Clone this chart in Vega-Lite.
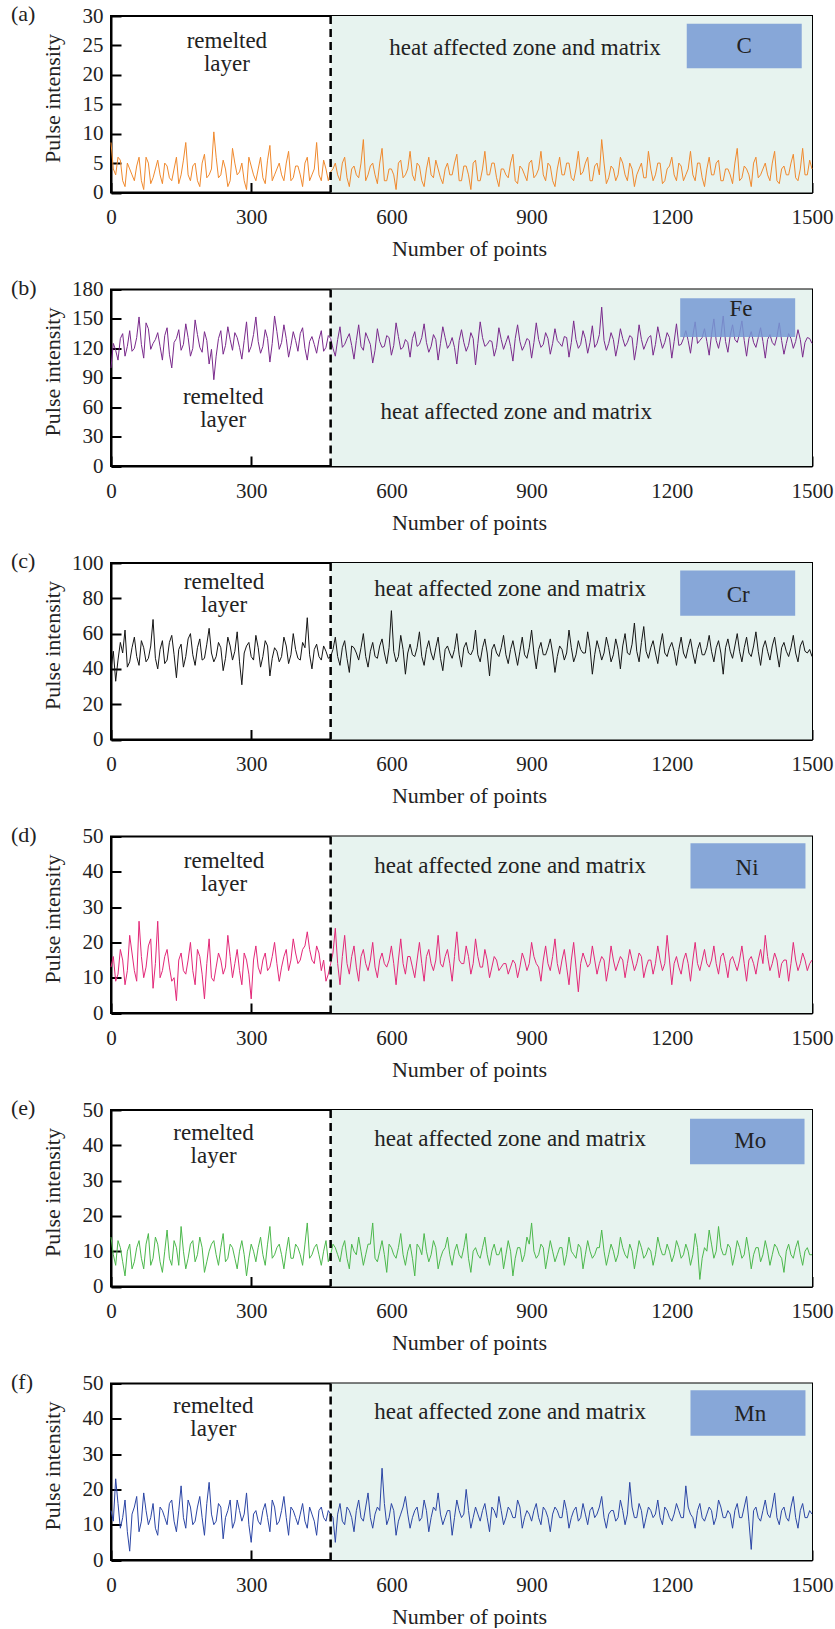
{
"$schema": "https://vega.github.io/schema/vega-lite/v6.json",
"padding": {"left": 10, "top": 2, "right": 0, "bottom": 0},
"background": "white",
"bounds": "flush",
"spacing": 96.5,
"config": {
  "view": {"stroke": "#000", "strokeWidth": 2},
  "axis": {"grid": false, "domainColor": "#000", "domainWidth": 2, "tickColor": "#000", "tickWidth": 2, "tickSize": -10, "labelOverlap": false, "labelFlush": false, "labelFont": "Liberation Serif, Times New Roman, serif", "labelFontSize": 21, "labelColor": "#222", "titleFont": "Liberation Serif, Times New Roman, serif", "titleFontSize": 22, "titleFontWeight": "normal", "titleColor": "#222"},
  "axisX": {"labelPadding": 24, "format": "d", "titleX": 358, "titleY": 56, "titleBaseline": "middle", "titleAlign": "center"},
  "axisY": {"labelPadding": 18, "titleX": -59, "titleY": 82, "titleBaseline": "middle", "titleAlign": "center"},
  "text": {"font": "Liberation Serif, Times New Roman, serif", "color": "#222", "fontSize": 23, "baseline": "middle", "align": "center"},
  "title": {"font": "Liberation Serif, Times New Roman, serif", "fontSize": 22, "fontWeight": "normal", "color": "#222", "anchor": "start", "frame": "group", "dx": -100, "baseline": "alphabetic", "offset": -21}
},
"data": {"values": [
{"x":0,"C":8.5,"Fe":100,"Cr":40,"Ni":13,"Mo":14,"Mn":14},
{"x":10,"C":3,"Fe":118,"Cr":33,"Ni":9,"Mo":6,"Mn":23},
{"x":20,"C":5.5,"Fe":130,"Cr":55,"Ni":18,"Mo":11,"Mn":9},
{"x":30,"C":1,"Fe":112,"Cr":62,"Ni":8,"Mo":3,"Mn":17},
{"x":40,"C":4,"Fe":138,"Cr":44,"Ni":22,"Mo":12,"Mn":2.5},
{"x":50,"C":2,"Fe":120,"Cr":58,"Ni":12,"Mo":7,"Mn":15},
{"x":60,"C":6,"Fe":152,"Cr":42,"Ni":26,"Mo":13,"Mn":8},
{"x":70,"C":0.5,"Fe":110,"Cr":52,"Ni":10,"Mo":5,"Mn":19},
{"x":80,"C":5,"Fe":140,"Cr":46,"Ni":19,"Mo":15,"Mn":10},
{"x":90,"C":2.5,"Fe":125,"Cr":68,"Ni":7,"Mo":8,"Mn":16},
{"x":100,"C":5.5,"Fe":136,"Cr":40,"Ni":26,"Mo":12,"Mn":7},
{"x":110,"C":1.5,"Fe":108,"Cr":56,"Ni":12,"Mo":4,"Mn":14},
{"x":120,"C":4.5,"Fe":141,"Cr":45,"Ni":18,"Mo":16,"Mn":10},
{"x":130,"C":2,"Fe":100,"Cr":59,"Ni":9,"Mo":6,"Mn":17},
{"x":140,"C":6,"Fe":130,"Cr":35,"Ni":3.5,"Mo":11,"Mn":8},
{"x":150,"C":3,"Fe":118,"Cr":54,"Ni":17,"Mo":17,"Mn":21},
{"x":160,"C":8.5,"Fe":145,"Cr":47,"Ni":11,"Mo":5,"Mn":9},
{"x":170,"C":2,"Fe":112,"Cr":60,"Ni":20,"Mo":12,"Mn":15},
{"x":180,"C":5,"Fe":149,"Cr":42,"Ni":8,"Mo":7,"Mn":11},
{"x":190,"C":1,"Fe":121,"Cr":57,"Ni":16,"Mo":14,"Mn":18},
{"x":200,"C":6.5,"Fe":137,"Cr":46,"Ni":4,"Mo":4,"Mn":7},
{"x":210,"C":3,"Fe":104,"Cr":63,"Ni":21,"Mo":10,"Mn":22},
{"x":220,"C":10.3,"Fe":88,"Cr":44,"Ni":9,"Mo":13,"Mn":10},
{"x":230,"C":2.5,"Fe":130,"Cr":55,"Ni":17,"Mo":6,"Mn":16},
{"x":240,"C":5.5,"Fe":114,"Cr":39,"Ni":11,"Mo":15,"Mn":6},
{"x":250,"C":1,"Fe":142,"Cr":58,"Ni":22,"Mo":8,"Mn":14},
{"x":260,"C":7.5,"Fe":118,"Cr":45,"Ni":10,"Mo":11,"Mn":9},
{"x":270,"C":3,"Fe":131,"Cr":61,"Ni":18,"Mo":5,"Mn":17},
{"x":280,"C":5,"Fe":109,"Cr":31,"Ni":8,"Mo":13,"Mn":11},
{"x":290,"C":0.5,"Fe":147,"Cr":53,"Ni":15,"Mo":3,"Mn":19},
{"x":300,"C":4.5,"Fe":122,"Cr":47,"Ni":4,"Mo":12,"Mn":5},
{"x":310,"C":2,"Fe":152,"Cr":59,"Ni":19,"Mo":7,"Mn":14},
{"x":320,"C":6,"Fe":115,"Cr":41,"Ni":11,"Mo":14,"Mn":10},
{"x":330,"C":1.5,"Fe":139,"Cr":56,"Ni":17,"Mo":6,"Mn":16},
{"x":340,"C":8,"Fe":106,"Cr":36,"Ni":13,"Mo":17,"Mn":8},
{"x":350,"C":3,"Fe":153,"Cr":52,"Ni":20,"Mo":9,"Mn":15},
{"x":360,"C":5,"Fe":119,"Cr":44,"Ni":9,"Mo":12,"Mn":11},
{"x":370,"C":2,"Fe":144,"Cr":58,"Ni":16,"Mo":5,"Mn":18},
{"x":380,"C":7,"Fe":111,"Cr":43,"Ni":12,"Mo":14,"Mn":7},
{"x":390,"C":2.5,"Fe":137,"Cr":60,"Ni":21,"Mo":8,"Mn":14},
{"x":400,"C":4.5,"Fe":117,"Cr":46,"Ni":14,"Mo":11,"Mn":10},
{"x":410,"C":1,"Fe":141,"Cr":55,"Ni":18,"Mo":6,"Mn":16},
{"x":420,"C":6,"Fe":108,"Cr":69,"Ni":23,"Mo":18,"Mn":9},
{"x":430,"C":3,"Fe":132,"Cr":40,"Ni":15,"Mo":9,"Mn":13},
{"x":440,"C":8.5,"Fe":115,"Cr":54,"Ni":19,"Mo":12,"Mn":7},
{"x":450,"C":2,"Fe":138,"Cr":45,"Ni":12,"Mo":6,"Mn":15},
{"x":460,"C":4,"Fe":121,"Cr":50,"Ni":9,"Mo":13,"Mn":11},
{"x":470,"C":3.5,"Fe":130,"Cr":47,"Ni":14,"Mo":9,"Mn":13},
{"x":480,"C":5,"Fe":112,"Cr":58,"Ni":24,"Mo":11,"Mn":5},
{"x":490,"C":2,"Fe":142,"Cr":42,"Ni":8,"Mo":7,"Mn":16},
{"x":500,"C":6,"Fe":124,"Cr":56,"Ni":22,"Mo":13,"Mn":10},
{"x":510,"C":1,"Fe":135,"Cr":38,"Ni":11,"Mo":5,"Mn":14},
{"x":520,"C":4.5,"Fe":109,"Cr":52,"Ni":19,"Mo":10,"Mn":8},
{"x":530,"C":2.5,"Fe":144,"Cr":45,"Ni":9,"Mo":14,"Mn":17},
{"x":540,"C":9,"Fe":118,"Cr":60,"Ni":18,"Mo":6,"Mn":11},
{"x":550,"C":3,"Fe":130,"Cr":41,"Ni":12,"Mo":12,"Mn":19},
{"x":560,"C":5,"Fe":105,"Cr":55,"Ni":20,"Mo":18,"Mn":9},
{"x":570,"C":1.5,"Fe":140,"Cr":46,"Ni":10,"Mo":7,"Mn":15},
{"x":580,"C":7.5,"Fe":121,"Cr":57,"Ni":17,"Mo":13,"Mn":26},
{"x":590,"C":2,"Fe":133,"Cr":43,"Ni":13,"Mo":4,"Mn":10},
{"x":600,"C":4,"Fe":113,"Cr":73,"Ni":19,"Mo":11,"Mn":16},
{"x":610,"C":0.5,"Fe":146,"Cr":44,"Ni":8,"Mo":8,"Mn":7},
{"x":620,"C":5.5,"Fe":119,"Cr":59,"Ni":21,"Mo":15,"Mn":13},
{"x":630,"C":3,"Fe":129,"Cr":37,"Ni":11,"Mo":6,"Mn":18},
{"x":640,"C":7,"Fe":111,"Cr":54,"Ni":16,"Mo":12,"Mn":9},
{"x":650,"C":2,"Fe":137,"Cr":47,"Ni":10,"Mo":3,"Mn":14},
{"x":660,"C":4.5,"Fe":124,"Cr":61,"Ni":20,"Mo":11,"Mn":11},
{"x":670,"C":1,"Fe":145,"Cr":42,"Ni":9,"Mo":15,"Mn":17},
{"x":680,"C":6,"Fe":116,"Cr":56,"Ni":18,"Mo":7,"Mn":8},
{"x":690,"C":2.5,"Fe":134,"Cr":45,"Ni":12,"Mo":13,"Mn":15},
{"x":700,"C":4,"Fe":108,"Cr":58,"Ni":22,"Mo":5,"Mn":19},
{"x":710,"C":1.5,"Fe":142,"Cr":39,"Ni":13,"Mo":10,"Mn":10},
{"x":720,"C":5,"Fe":120,"Cr":53,"Ni":18,"Mo":14,"Mn":14},
{"x":730,"C":3,"Fe":131,"Cr":46,"Ni":9,"Mo":6,"Mn":7},
{"x":740,"C":6.5,"Fe":104,"Cr":60,"Ni":23,"Mo":12,"Mn":17},
{"x":750,"C":2,"Fe":139,"Cr":41,"Ni":14,"Mo":8,"Mn":12},
{"x":760,"C":4.5,"Fe":117,"Cr":55,"Ni":19,"Mo":15,"Mn":20},
{"x":770,"C":0.5,"Fe":136,"Cr":48,"Ni":11,"Mo":4,"Mn":9},
{"x":780,"C":5.5,"Fe":103,"Cr":62,"Ni":21,"Mo":11,"Mn":15},
{"x":790,"C":2,"Fe":147,"Cr":44,"Ni":13,"Mo":8,"Mn":11},
{"x":800,"C":7,"Fe":122,"Cr":57,"Ni":18,"Mo":14,"Mn":16},
{"x":810,"C":3,"Fe":128,"Cr":36,"Ni":10,"Mo":6,"Mn":8},
{"x":820,"C":5,"Fe":112,"Cr":54,"Ni":16,"Mo":12,"Mn":14},
{"x":830,"C":1,"Fe":141,"Cr":47,"Ni":12,"Mo":9,"Mn":18},
{"x":840,"C":4,"Fe":119,"Cr":59,"Ni":14,"Mo":5,"Mn":10},
{"x":850,"C":2.5,"Fe":133,"Cr":43,"Ni":11,"Mo":13,"Mn":15},
{"x":860,"C":6.5,"Fe":107,"Cr":56,"Ni":15,"Mo":3,"Mn":12},
{"x":870,"C":1.5,"Fe":144,"Cr":42,"Ni":10,"Mo":11,"Mn":17},
{"x":880,"C":4,"Fe":118,"Cr":58,"Ni":17,"Mo":7,"Mn":9},
{"x":890,"C":2,"Fe":130,"Cr":46,"Ni":12,"Mo":14,"Mn":14},
{"x":900,"C":5.5,"Fe":110,"Cr":62,"Ni":20,"Mo":18,"Mn":11},
{"x":910,"C":3,"Fe":146,"Cr":40,"Ni":14,"Mo":8,"Mn":16},
{"x":920,"C":7,"Fe":121,"Cr":55,"Ni":9,"Mo":12,"Mn":10},
{"x":930,"C":2,"Fe":136,"Cr":48,"Ni":19,"Mo":5,"Mn":14},
{"x":940,"C":4.5,"Fe":114,"Cr":57,"Ni":12,"Mo":13,"Mn":8},
{"x":950,"C":1,"Fe":140,"Cr":38,"Ni":21,"Mo":7,"Mn":15},
{"x":960,"C":6,"Fe":125,"Cr":53,"Ni":11,"Mo":11,"Mn":12},
{"x":970,"C":3,"Fe":132,"Cr":45,"Ni":18,"Mo":6,"Mn":17},
{"x":980,"C":5,"Fe":111,"Cr":62,"Ni":8,"Mo":14,"Mn":9},
{"x":990,"C":2,"Fe":148,"Cr":44,"Ni":20,"Mo":9,"Mn":14},
{"x":1000,"C":7,"Fe":120,"Cr":56,"Ni":6,"Mo":12,"Mn":11},
{"x":1010,"C":3.5,"Fe":138,"Cr":49,"Ni":17,"Mo":5,"Mn":16},
{"x":1020,"C":6,"Fe":115,"Cr":61,"Ni":13,"Mo":13,"Mn":10},
{"x":1030,"C":2,"Fe":143,"Cr":37,"Ni":19,"Mo":8,"Mn":15},
{"x":1040,"C":5,"Fe":125,"Cr":56,"Ni":11,"Mo":11,"Mn":13},
{"x":1050,"C":9,"Fe":162,"Cr":45,"Ni":16,"Mo":16,"Mn":18},
{"x":1060,"C":1.5,"Fe":118,"Cr":58,"Ni":9,"Mo":6,"Mn":9},
{"x":1070,"C":4.5,"Fe":136,"Cr":44,"Ni":19,"Mo":12,"Mn":14},
{"x":1080,"C":2,"Fe":112,"Cr":57,"Ni":12,"Mo":7,"Mn":11},
{"x":1090,"C":6,"Fe":140,"Cr":40,"Ni":16,"Mo":14,"Mn":17},
{"x":1100,"C":3,"Fe":122,"Cr":60,"Ni":10,"Mo":9,"Mn":10},
{"x":1110,"C":5,"Fe":133,"Cr":48,"Ni":18,"Mo":12,"Mn":22},
{"x":1120,"C":1,"Fe":108,"Cr":66,"Ni":12,"Mo":5,"Mn":12},
{"x":1130,"C":4,"Fe":144,"Cr":44,"Ni":17,"Mo":13,"Mn":16},
{"x":1140,"C":2.5,"Fe":119,"Cr":64,"Ni":10,"Mo":8,"Mn":9},
{"x":1150,"C":7,"Fe":131,"Cr":46,"Ni":15,"Mo":11,"Mn":15},
{"x":1160,"C":2,"Fe":113,"Cr":56,"Ni":11,"Mo":6,"Mn":12},
{"x":1170,"C":5,"Fe":142,"Cr":43,"Ni":19,"Mo":14,"Mn":17},
{"x":1180,"C":1.5,"Fe":120,"Cr":60,"Ni":12,"Mo":9,"Mn":10},
{"x":1190,"C":4,"Fe":136,"Cr":47,"Ni":22,"Mo":12,"Mn":14},
{"x":1200,"C":6,"Fe":110,"Cr":55,"Ni":8,"Mo":7,"Mn":11},
{"x":1210,"C":2,"Fe":145,"Cr":42,"Ni":16,"Mo":13,"Mn":16},
{"x":1220,"C":4.5,"Fe":124,"Cr":58,"Ni":11,"Mo":8,"Mn":12},
{"x":1230,"C":3,"Fe":138,"Cr":46,"Ni":17,"Mo":12,"Mn":21},
{"x":1240,"C":7,"Fe":115,"Cr":57,"Ni":9,"Mo":6,"Mn":13},
{"x":1250,"C":2,"Fe":147,"Cr":43,"Ni":20,"Mo":15,"Mn":9},
{"x":1260,"C":5,"Fe":128,"Cr":55,"Ni":12,"Mo":2,"Mn":16},
{"x":1270,"C":1,"Fe":140,"Cr":48,"Ni":18,"Mo":11,"Mn":11},
{"x":1280,"C":6,"Fe":113,"Cr":59,"Ni":13,"Mo":16,"Mn":15},
{"x":1290,"C":3,"Fe":150,"Cr":44,"Ni":19,"Mo":8,"Mn":10},
{"x":1300,"C":5.5,"Fe":120,"Cr":56,"Ni":11,"Mo":17,"Mn":17},
{"x":1310,"C":2,"Fe":153,"Cr":37,"Ni":17,"Mo":9,"Mn":12},
{"x":1320,"C":4,"Fe":116,"Cr":57,"Ni":10,"Mo":12,"Mn":14},
{"x":1330,"C":1.5,"Fe":144,"Cr":46,"Ni":16,"Mo":6,"Mn":9},
{"x":1340,"C":7.5,"Fe":126,"Cr":60,"Ni":12,"Mo":13,"Mn":16},
{"x":1350,"C":2.5,"Fe":148,"Cr":44,"Ni":19,"Mo":8,"Mn":12},
{"x":1360,"C":4,"Fe":112,"Cr":58,"Ni":9,"Mo":14,"Mn":18},
{"x":1370,"C":1,"Fe":137,"Cr":47,"Ni":16,"Mo":5,"Mn":3},
{"x":1380,"C":6,"Fe":121,"Cr":61,"Ni":11,"Mo":11,"Mn":15},
{"x":1390,"C":3,"Fe":141,"Cr":42,"Ni":18,"Mo":7,"Mn":11},
{"x":1400,"C":5,"Fe":110,"Cr":56,"Ni":22,"Mo":13,"Mn":17},
{"x":1410,"C":2,"Fe":134,"Cr":45,"Ni":12,"Mo":6,"Mn":12},
{"x":1420,"C":7,"Fe":123,"Cr":58,"Ni":17,"Mo":12,"Mn":19},
{"x":1430,"C":1.5,"Fe":146,"Cr":41,"Ni":10,"Mo":9,"Mn":10},
{"x":1440,"C":4.5,"Fe":114,"Cr":55,"Ni":15,"Mo":4,"Mn":15},
{"x":1450,"C":3,"Fe":135,"Cr":47,"Ni":9,"Mo":12,"Mn":11},
{"x":1460,"C":6.5,"Fe":120,"Cr":59,"Ni":20,"Mo":8,"Mn":18},
{"x":1470,"C":2,"Fe":139,"Cr":44,"Ni":12,"Mo":13,"Mn":9},
{"x":1480,"C":7.5,"Fe":111,"Cr":56,"Ni":17,"Mo":6,"Mn":16},
{"x":1490,"C":3,"Fe":131,"Cr":49,"Ni":12,"Mo":11,"Mn":12},
{"x":1500,"C":4,"Fe":125,"Cr":47,"Ni":15,"Mo":9,"Mn":13},
{"x":5,"C":4,"Fe":125,"Cr":50,"Ni":16,"Mo":9,"Mn":11},
{"x":15,"C":6,"Fe":108,"Cr":45,"Ni":11,"Mo":13,"Mn":16},
{"x":25,"C":2,"Fe":135,"Cr":49,"Ni":15,"Mo":7,"Mn":12},
{"x":35,"C":5,"Fe":122,"Cr":41,"Ni":12,"Mo":10,"Mn":8},
{"x":45,"C":3,"Fe":117,"Cr":52,"Ni":17,"Mo":5,"Mn":13},
{"x":55,"C":4.5,"Fe":131,"Cr":47,"Ni":9,"Mo":11,"Mn":18},
{"x":65,"C":2,"Fe":124,"Cr":56,"Ni":16,"Mo":8,"Mn":11},
{"x":75,"C":6,"Fe":146,"Cr":44,"Ni":13,"Mo":12,"Mn":14},
{"x":85,"C":1.5,"Fe":119,"Cr":53,"Ni":21,"Mo":6,"Mn":12},
{"x":95,"C":4,"Fe":129,"Cr":46,"Ni":14,"Mo":14,"Mn":9},
{"x":105,"C":3,"Fe":122,"Cr":51,"Ni":10,"Mo":7,"Mn":15},
{"x":115,"C":5,"Fe":133,"Cr":43,"Ni":16,"Mo":10,"Mn":12},
{"x":125,"C":2.5,"Fe":114,"Cr":55,"Ni":13,"Mo":8,"Mn":16},
{"x":135,"C":4,"Fe":126,"Cr":48,"Ni":10,"Mo":13,"Mn":11},
{"x":145,"C":1.5,"Fe":139,"Cr":51,"Ni":15,"Mo":6,"Mn":14},
{"x":155,"C":5.5,"Fe":124,"Cr":41,"Ni":12,"Mo":10,"Mn":12},
{"x":165,"C":3,"Fe":131,"Cr":57,"Ni":15,"Mo":8,"Mn":17},
{"x":175,"C":4.5,"Fe":120,"Cr":48,"Ni":12,"Mo":13,"Mn":10},
{"x":185,"C":2,"Fe":134,"Cr":52,"Ni":18,"Mo":9,"Mn":15},
{"x":195,"C":5,"Fe":116,"Cr":45,"Ni":11,"Mo":11,"Mn":12},
{"x":205,"C":2.5,"Fe":128,"Cr":54,"Ni":14,"Mo":7,"Mn":16},
{"x":215,"C":4,"Fe":119,"Cr":49,"Ni":10,"Mo":12,"Mn":13},
{"x":225,"C":6,"Fe":112,"Cr":47,"Ni":13,"Mo":9,"Mn":11},
{"x":235,"C":3,"Fe":138,"Cr":52,"Ni":15,"Mo":11,"Mn":15},
{"x":245,"C":4,"Fe":123,"Cr":46,"Ni":13,"Mo":7,"Mn":12},
{"x":255,"C":2,"Fe":129,"Cr":53,"Ni":16,"Mo":12,"Mn":17},
{"x":265,"C":5,"Fe":136,"Cr":50,"Ni":14,"Mo":8,"Mn":11},
{"x":275,"C":3.5,"Fe":121,"Cr":44,"Ni":12,"Mo":10,"Mn":14},
{"x":285,"C":2,"Fe":128,"Cr":49,"Ni":17,"Mo":9,"Mn":13},
{"x":295,"C":6,"Fe":116,"Cr":55,"Ni":11,"Mo":8,"Mn":10},
{"x":305,"C":3,"Fe":134,"Cr":45,"Ni":15,"Mo":10,"Mn":13},
{"x":315,"C":4,"Fe":127,"Cr":52,"Ni":13,"Mo":11,"Mn":11},
{"x":325,"C":2.5,"Fe":122,"Cr":47,"Ni":15,"Mo":9,"Mn":14},
{"x":335,"C":5.5,"Fe":130,"Cr":53,"Ni":12,"Mo":12,"Mn":12},
{"x":345,"C":2,"Fe":125,"Cr":46,"Ni":16,"Mo":8,"Mn":17},
{"x":355,"C":4,"Fe":137,"Cr":50,"Ni":14,"Mo":11,"Mn":10},
{"x":365,"C":3,"Fe":126,"Cr":47,"Ni":13,"Mo":9,"Mn":14},
{"x":375,"C":5,"Fe":130,"Cr":53,"Ni":18,"Mo":10,"Mn":12},
{"x":385,"C":2,"Fe":123,"Cr":48,"Ni":15,"Mo":8,"Mn":15},
{"x":395,"C":4.5,"Fe":128,"Cr":51,"Ni":17,"Mo":12,"Mn":12},
{"x":405,"C":3,"Fe":135,"Cr":45,"Ni":15,"Mo":9,"Mn":13},
{"x":415,"C":5,"Fe":120,"Cr":52,"Ni":19,"Mo":12,"Mn":11},
{"x":425,"C":2,"Fe":127,"Cr":48,"Ni":18,"Mo":8,"Mn":15},
{"x":435,"C":4,"Fe":124,"Cr":51,"Ni":14,"Mo":11,"Mn":11},
{"x":445,"C":3,"Fe":129,"Cr":47,"Ni":17,"Mo":9,"Mn":14},
{"x":455,"C":5.5,"Fe":117,"Cr":53,"Ni":15,"Mo":10,"Mn":12},
{"x":465,"C":2,"Fe":133,"Cr":46,"Ni":11,"Mo":7,"Mn":14},
{"x":475,"C":4,"Fe":120,"Cr":51,"Ni":17,"Mo":12,"Mn":12},
{"x":485,"C":3,"Fe":129,"Cr":47,"Ni":14,"Mo":9,"Mn":13},
{"x":495,"C":5,"Fe":121,"Cr":52,"Ni":16,"Mo":11,"Mn":11},
{"x":505,"C":2.5,"Fe":130,"Cr":46,"Ni":14,"Mo":8,"Mn":15},
{"x":515,"C":4,"Fe":123,"Cr":53,"Ni":16,"Mo":12,"Mn":12},
{"x":525,"C":3,"Fe":128,"Cr":49,"Ni":13,"Mo":9,"Mn":14},
{"x":535,"C":5,"Fe":122,"Cr":52,"Ni":16,"Mo":10,"Mn":12},
{"x":545,"C":2,"Fe":136,"Cr":47,"Ni":14,"Mo":9,"Mn":15},
{"x":555,"C":4.5,"Fe":124,"Cr":50,"Ni":15,"Mo":12,"Mn":12},
{"x":565,"C":3,"Fe":118,"Cr":47,"Ni":13,"Mo":8,"Mn":13},
{"x":575,"C":5,"Fe":127,"Cr":53,"Ni":15,"Mo":10,"Mn":14},
{"x":585,"C":2,"Fe":122,"Cr":49,"Ni":14,"Mo":9,"Mn":16},
{"x":595,"C":4,"Fe":131,"Cr":52,"Ni":15,"Mo":12,"Mn":12},
{"x":605,"C":3,"Fe":123,"Cr":50,"Ni":14,"Mo":9,"Mn":14},
{"x":615,"C":5,"Fe":132,"Cr":47,"Ni":15,"Mo":11,"Mn":11},
{"x":625,"C":2.5,"Fe":121,"Cr":51,"Ni":14,"Mo":9,"Mn":15},
{"x":635,"C":4,"Fe":126,"Cr":49,"Ni":16,"Mo":10,"Mn":13},
{"x":645,"C":3,"Fe":130,"Cr":48,"Ni":13,"Mo":8,"Mn":12},
{"x":655,"C":5,"Fe":122,"Cr":52,"Ni":15,"Mo":12,"Mn":15},
{"x":665,"C":2,"Fe":131,"Cr":47,"Ni":14,"Mo":9,"Mn":12},
{"x":675,"C":4,"Fe":126,"Cr":51,"Ni":16,"Mo":10,"Mn":14},
{"x":685,"C":3,"Fe":122,"Cr":49,"Ni":14,"Mo":9,"Mn":12},
{"x":695,"C":5.5,"Fe":129,"Cr":52,"Ni":15,"Mo":11,"Mn":14},
{"x":705,"C":2.5,"Fe":125,"Cr":46,"Ni":14,"Mo":8,"Mn":13},
{"x":715,"C":4,"Fe":131,"Cr":51,"Ni":16,"Mo":11,"Mn":12},
{"x":725,"C":3,"Fe":124,"Cr":49,"Ni":14,"Mo":9,"Mn":14},
{"x":735,"C":5,"Fe":121,"Cr":51,"Ni":16,"Mo":10,"Mn":12},
{"x":745,"C":2,"Fe":128,"Cr":48,"Ni":15,"Mo":9,"Mn":14},
{"x":755,"C":4.5,"Fe":126,"Cr":52,"Ni":14,"Mo":11,"Mn":13},
{"x":765,"C":3,"Fe":123,"Cr":49,"Ni":16,"Mo":8,"Mn":14},
{"x":775,"C":5,"Fe":130,"Cr":51,"Ni":14,"Mo":10,"Mn":12},
{"x":785,"C":2,"Fe":125,"Cr":48,"Ni":16,"Mo":9,"Mn":13},
{"x":795,"C":4,"Fe":131,"Cr":52,"Ni":13,"Mo":11,"Mn":14},
{"x":805,"C":3,"Fe":124,"Cr":49,"Ni":15,"Mo":9,"Mn":12},
{"x":815,"C":5,"Fe":127,"Cr":51,"Ni":13,"Mo":10,"Mn":15},
{"x":825,"C":2.5,"Fe":121,"Cr":49,"Ni":15,"Mo":9,"Mn":12},
{"x":835,"C":4,"Fe":129,"Cr":52,"Ni":13,"Mo":11,"Mn":14},
{"x":845,"C":3,"Fe":126,"Cr":48,"Ni":14,"Mo":9,"Mn":12},
{"x":855,"C":5,"Fe":122,"Cr":51,"Ni":13,"Mo":10,"Mn":14},
{"x":865,"C":2,"Fe":130,"Cr":49,"Ni":14,"Mo":8,"Mn":12},
{"x":875,"C":4.5,"Fe":127,"Cr":50,"Ni":13,"Mo":11,"Mn":15},
{"x":885,"C":3,"Fe":123,"Cr":48,"Ni":15,"Mo":9,"Mn":12},
{"x":895,"C":5,"Fe":128,"Cr":52,"Ni":14,"Mo":12,"Mn":13},
{"x":905,"C":2.5,"Fe":126,"Cr":49,"Ni":16,"Mo":10,"Mn":14},
{"x":915,"C":4,"Fe":129,"Cr":51,"Ni":13,"Mo":9,"Mn":12},
{"x":925,"C":3,"Fe":124,"Cr":48,"Ni":15,"Mo":11,"Mn":15},
{"x":935,"C":5,"Fe":130,"Cr":52,"Ni":14,"Mo":9,"Mn":12},
{"x":945,"C":2,"Fe":125,"Cr":49,"Ni":16,"Mo":10,"Mn":13},
{"x":955,"C":4,"Fe":128,"Cr":47,"Ni":14,"Mo":9,"Mn":14},
{"x":965,"C":3,"Fe":122,"Cr":51,"Ni":15,"Mo":11,"Mn":12},
{"x":975,"C":5,"Fe":131,"Cr":49,"Ni":13,"Mo":9,"Mn":14},
{"x":985,"C":2.5,"Fe":126,"Cr":52,"Ni":15,"Mo":10,"Mn":12},
{"x":995,"C":4,"Fe":129,"Cr":48,"Ni":13,"Mo":8,"Mn":15},
{"x":1005,"C":3,"Fe":124,"Cr":51,"Ni":14,"Mo":11,"Mn":12},
{"x":1015,"C":5,"Fe":130,"Cr":49,"Ni":15,"Mo":9,"Mn":13},
{"x":1025,"C":2,"Fe":126,"Cr":52,"Ni":14,"Mo":10,"Mn":14},
{"x":1035,"C":4.5,"Fe":121,"Cr":48,"Ni":15,"Mo":9,"Mn":12},
{"x":1045,"C":3,"Fe":134,"Cr":51,"Ni":14,"Mo":11,"Mn":15},
{"x":1055,"C":5,"Fe":128,"Cr":49,"Ni":15,"Mo":10,"Mn":12},
{"x":1065,"C":2.5,"Fe":125,"Cr":52,"Ni":13,"Mo":9,"Mn":13},
{"x":1075,"C":4,"Fe":129,"Cr":48,"Ni":15,"Mo":10,"Mn":14},
{"x":1085,"C":3,"Fe":124,"Cr":51,"Ni":14,"Mo":9,"Mn":12},
{"x":1095,"C":5,"Fe":130,"Cr":53,"Ni":15,"Mo":11,"Mn":14},
{"x":1105,"C":2,"Fe":126,"Cr":49,"Ni":14,"Mo":8,"Mn":13},
{"x":1115,"C":4,"Fe":131,"Cr":54,"Ni":15,"Mo":10,"Mn":15},
{"x":1125,"C":3,"Fe":123,"Cr":50,"Ni":14,"Mo":9,"Mn":12},
{"x":1135,"C":5,"Fe":129,"Cr":55,"Ni":16,"Mo":11,"Mn":14},
{"x":1145,"C":2.5,"Fe":125,"Cr":50,"Ni":13,"Mo":9,"Mn":12},
{"x":1155,"C":4,"Fe":133,"Cr":52,"Ni":15,"Mo":10,"Mn":14},
{"x":1165,"C":3,"Fe":124,"Cr":49,"Ni":14,"Mo":9,"Mn":13},
{"x":1175,"C":5,"Fe":130,"Cr":53,"Ni":15,"Mo":11,"Mn":12},
{"x":1185,"C":2,"Fe":126,"Cr":49,"Ni":14,"Mo":9,"Mn":15},
{"x":1195,"C":4.5,"Fe":131,"Cr":52,"Ni":15,"Mo":10,"Mn":12},
{"x":1205,"C":3,"Fe":127,"Cr":50,"Ni":14,"Mo":9,"Mn":13},
{"x":1215,"C":5,"Fe":123,"Cr":51,"Ni":13,"Mo":11,"Mn":14},
{"x":1225,"C":2,"Fe":130,"Cr":49,"Ni":15,"Mo":9,"Mn":12},
{"x":1235,"C":4,"Fe":128,"Cr":52,"Ni":14,"Mo":10,"Mn":15},
{"x":1245,"C":3,"Fe":133,"Cr":49,"Ni":15,"Mo":9,"Mn":12},
{"x":1255,"C":5,"Fe":125,"Cr":51,"Ni":14,"Mo":11,"Mn":14},
{"x":1265,"C":2.5,"Fe":131,"Cr":48,"Ni":15,"Mo":8,"Mn":12},
{"x":1275,"C":4,"Fe":127,"Cr":52,"Ni":14,"Mo":10,"Mn":13},
{"x":1285,"C":3,"Fe":134,"Cr":50,"Ni":15,"Mo":12,"Mn":14},
{"x":1295,"C":5,"Fe":128,"Cr":52,"Ni":14,"Mo":10,"Mn":12},
{"x":1305,"C":2,"Fe":132,"Cr":49,"Ni":16,"Mo":11,"Mn":15},
{"x":1315,"C":4,"Fe":127,"Cr":52,"Ni":14,"Mo":9,"Mn":12},
{"x":1325,"C":3,"Fe":133,"Cr":50,"Ni":15,"Mo":11,"Mn":13},
{"x":1335,"C":5,"Fe":129,"Cr":53,"Ni":14,"Mo":9,"Mn":14},
{"x":1345,"C":2,"Fe":135,"Cr":50,"Ni":15,"Mo":11,"Mn":12},
{"x":1355,"C":4.5,"Fe":128,"Cr":52,"Ni":14,"Mo":9,"Mn":15},
{"x":1365,"C":3,"Fe":130,"Cr":49,"Ni":15,"Mo":10,"Mn":11},
{"x":1375,"C":5,"Fe":126,"Cr":53,"Ni":14,"Mo":9,"Mn":14},
{"x":1385,"C":2.5,"Fe":131,"Cr":50,"Ni":15,"Mo":11,"Mn":12},
{"x":1395,"C":4,"Fe":127,"Cr":52,"Ni":14,"Mo":9,"Mn":14},
{"x":1405,"C":3,"Fe":129,"Cr":50,"Ni":16,"Mo":10,"Mn":13},
{"x":1415,"C":5,"Fe":126,"Cr":53,"Ni":14,"Mo":9,"Mn":15},
{"x":1425,"C":2,"Fe":132,"Cr":49,"Ni":15,"Mo":11,"Mn":12},
{"x":1435,"C":4,"Fe":128,"Cr":52,"Ni":14,"Mo":8,"Mn":14},
{"x":1445,"C":3,"Fe":125,"Cr":50,"Ni":15,"Mo":10,"Mn":12},
{"x":1455,"C":5,"Fe":130,"Cr":52,"Ni":14,"Mo":9,"Mn":15},
{"x":1465,"C":2.5,"Fe":127,"Cr":49,"Ni":15,"Mo":11,"Mn":12},
{"x":1475,"C":4,"Fe":129,"Cr":53,"Ni":14,"Mo":9,"Mn":14},
{"x":1485,"C":3,"Fe":126,"Cr":50,"Ni":15,"Mo":10,"Mn":12},
{"x":1495,"C":5.5,"Fe":130,"Cr":51,"Ni":14,"Mo":9,"Mn":14}
]},
"vconcat": [
{"width": 701, "height": 176.5, "title": "(a)", "layer": [
  {"data": {"values": [{}]}, "mark": {"type": "rect", "color": "#e7f3ef"}, "encoding": {"x": {"datum": 470}, "x2": {"datum": 1500}}},
  {"mark": {"type": "line", "color": "#f0892d", "strokeWidth": 1}, "encoding": {
    "x": {"field": "x", "type": "quantitative", "scale": {"domain": [0, 1500], "nice": false}, "axis": {"values": [0, 300, 600, 900, 1200, 1500], "tickCount": 20, "title": "Number of points", "labelOverlap": false}},
    "y": {"field": "C", "type": "quantitative", "scale": {"domain": [0, 30], "nice": false}, "axis": {"values": [0, 5, 10, 15, 20, 25, 30], "tickCount": 20, "title": "Pulse intensity", "labelOverlap": false}}}},
  {"data": {"values": [{}]}, "mark": {"type": "rule", "color": "#000", "strokeWidth": 2.5, "strokeDash": [8, 5]}, "encoding": {"x": {"datum": 470}}},
  {"data": {"values": [{}]}, "mark": {"type": "rect", "color": "#7699d4", "opacity": 0.85}, "encoding": {"x": {"datum": 1232}, "x2": {"datum": 1478}, "y": {"datum": 28.7}, "y2": {"datum": 21.1}}},
  {"data": {"values": [{}]}, "mark": {"type": "text"}, "encoding": {"x": {"datum": 1355}, "y": {"datum": 24.9}, "text": {"value": "C"}}},
  {"data": {"values": [{}]}, "mark": {"type": "text", "lineHeight": 23}, "encoding": {"x": {"datum": 248}, "y": {"datum": 25.75}, "text": {"value": ["remelted", "layer"]}}},
  {"data": {"values": [{}]}, "mark": {"type": "text"}, "encoding": {"x": {"datum": 886}, "y": {"datum": 24.6}, "text": {"value": "heat affected zone and matrix"}}}
]},
{"width": 701, "height": 176.5, "title": "(b)", "layer": [
  {"data": {"values": [{}]}, "mark": {"type": "rect", "color": "#e7f3ef"}, "encoding": {"x": {"datum": 470}, "x2": {"datum": 1500}}},
  {"mark": {"type": "line", "color": "#7a2a8c", "strokeWidth": 1}, "encoding": {
    "x": {"field": "x", "type": "quantitative", "scale": {"domain": [0, 1500], "nice": false}, "axis": {"values": [0, 300, 600, 900, 1200, 1500], "tickCount": 20, "title": "Number of points", "labelOverlap": false}},
    "y": {"field": "Fe", "type": "quantitative", "scale": {"domain": [0, 180], "nice": false}, "axis": {"values": [0, 30, 60, 90, 120, 150, 180], "tickCount": 20, "title": "Pulse intensity", "labelOverlap": false}}}},
  {"data": {"values": [{}]}, "mark": {"type": "rule", "color": "#000", "strokeWidth": 2.5, "strokeDash": [8, 5]}, "encoding": {"x": {"datum": 470}}},
  {"data": {"values": [{}]}, "mark": {"type": "rect", "color": "#7699d4", "opacity": 0.85}, "encoding": {"x": {"datum": 1218}, "x2": {"datum": 1464}, "y": {"datum": 171.2}, "y2": {"datum": 131.5}}},
  {"data": {"values": [{}]}, "mark": {"type": "text"}, "encoding": {"x": {"datum": 1348}, "y": {"datum": 160.3}, "text": {"value": "Fe"}}},
  {"data": {"values": [{}]}, "mark": {"type": "text", "lineHeight": 23}, "encoding": {"x": {"datum": 240}, "y": {"datum": 70.3}, "text": {"value": ["remelted", "layer"]}}},
  {"data": {"values": [{}]}, "mark": {"type": "text"}, "encoding": {"x": {"datum": 867}, "y": {"datum": 55.3}, "text": {"value": "heat affected zone and matrix"}}}
]},
{"width": 701, "height": 176.5, "title": "(c)", "layer": [
  {"data": {"values": [{}]}, "mark": {"type": "rect", "color": "#e7f3ef"}, "encoding": {"x": {"datum": 470}, "x2": {"datum": 1500}}},
  {"mark": {"type": "line", "color": "#151515", "strokeWidth": 1}, "encoding": {
    "x": {"field": "x", "type": "quantitative", "scale": {"domain": [0, 1500], "nice": false}, "axis": {"values": [0, 300, 600, 900, 1200, 1500], "tickCount": 20, "title": "Number of points", "labelOverlap": false}},
    "y": {"field": "Cr", "type": "quantitative", "scale": {"domain": [0, 100], "nice": false}, "axis": {"values": [0, 20, 40, 60, 80, 100], "tickCount": 20, "title": "Pulse intensity", "labelOverlap": false}}}},
  {"data": {"values": [{}]}, "mark": {"type": "rule", "color": "#000", "strokeWidth": 2.5, "strokeDash": [8, 5]}, "encoding": {"x": {"datum": 470}}},
  {"data": {"values": [{}]}, "mark": {"type": "rect", "color": "#7699d4", "opacity": 0.85}, "encoding": {"x": {"datum": 1218}, "x2": {"datum": 1464}, "y": {"datum": 95.8}, "y2": {"datum": 70.1}}},
  {"data": {"values": [{}]}, "mark": {"type": "text"}, "encoding": {"x": {"datum": 1342}, "y": {"datum": 82}, "text": {"value": "Cr"}}},
  {"data": {"values": [{}]}, "mark": {"type": "text", "lineHeight": 23}, "encoding": {"x": {"datum": 242}, "y": {"datum": 89}, "text": {"value": ["remelted", "layer"]}}},
  {"data": {"values": [{}]}, "mark": {"type": "text"}, "encoding": {"x": {"datum": 854}, "y": {"datum": 85.3}, "text": {"value": "heat affected zone and matrix"}}}
]},
{"width": 701, "height": 176.5, "title": "(d)", "layer": [
  {"data": {"values": [{}]}, "mark": {"type": "rect", "color": "#e7f3ef"}, "encoding": {"x": {"datum": 470}, "x2": {"datum": 1500}}},
  {"mark": {"type": "line", "color": "#e32878", "strokeWidth": 1}, "encoding": {
    "x": {"field": "x", "type": "quantitative", "scale": {"domain": [0, 1500], "nice": false}, "axis": {"values": [0, 300, 600, 900, 1200, 1500], "tickCount": 20, "title": "Number of points", "labelOverlap": false}},
    "y": {"field": "Ni", "type": "quantitative", "scale": {"domain": [0, 50], "nice": false}, "axis": {"values": [0, 10, 20, 30, 40, 50], "tickCount": 20, "title": "Pulse intensity", "labelOverlap": false}}}},
  {"data": {"values": [{}]}, "mark": {"type": "rule", "color": "#000", "strokeWidth": 2.5, "strokeDash": [8, 5]}, "encoding": {"x": {"datum": 470}}},
  {"data": {"values": [{}]}, "mark": {"type": "rect", "color": "#7699d4", "opacity": 0.85}, "encoding": {"x": {"datum": 1240}, "x2": {"datum": 1486}, "y": {"datum": 48.1}, "y2": {"datum": 35.3}}},
  {"data": {"values": [{}]}, "mark": {"type": "text"}, "encoding": {"x": {"datum": 1361}, "y": {"datum": 41.2}, "text": {"value": "Ni"}}},
  {"data": {"values": [{}]}, "mark": {"type": "text", "lineHeight": 23}, "encoding": {"x": {"datum": 242}, "y": {"datum": 43.1}, "text": {"value": ["remelted", "layer"]}}},
  {"data": {"values": [{}]}, "mark": {"type": "text"}, "encoding": {"x": {"datum": 854}, "y": {"datum": 41.7}, "text": {"value": "heat affected zone and matrix"}}}
]},
{"width": 701, "height": 176.5, "title": "(e)", "layer": [
  {"data": {"values": [{}]}, "mark": {"type": "rect", "color": "#e7f3ef"}, "encoding": {"x": {"datum": 470}, "x2": {"datum": 1500}}},
  {"mark": {"type": "line", "color": "#4cb84c", "strokeWidth": 1}, "encoding": {
    "x": {"field": "x", "type": "quantitative", "scale": {"domain": [0, 1500], "nice": false}, "axis": {"values": [0, 300, 600, 900, 1200, 1500], "tickCount": 20, "title": "Number of points", "labelOverlap": false}},
    "y": {"field": "Mo", "type": "quantitative", "scale": {"domain": [0, 50], "nice": false}, "axis": {"values": [0, 10, 20, 30, 40, 50], "tickCount": 20, "title": "Pulse intensity", "labelOverlap": false}}}},
  {"data": {"values": [{}]}, "mark": {"type": "rule", "color": "#000", "strokeWidth": 2.5, "strokeDash": [8, 5]}, "encoding": {"x": {"datum": 470}}},
  {"data": {"values": [{}]}, "mark": {"type": "rect", "color": "#7699d4", "opacity": 0.85}, "encoding": {"x": {"datum": 1239}, "x2": {"datum": 1484}, "y": {"datum": 47.5}, "y2": {"datum": 34.6}}},
  {"data": {"values": [{}]}, "mark": {"type": "text"}, "encoding": {"x": {"datum": 1368}, "y": {"datum": 41.3}, "text": {"value": "Mo"}}},
  {"data": {"values": [{}]}, "mark": {"type": "text", "lineHeight": 23}, "encoding": {"x": {"datum": 219.5}, "y": {"datum": 43.6}, "text": {"value": ["remelted", "layer"]}}},
  {"data": {"values": [{}]}, "mark": {"type": "text"}, "encoding": {"x": {"datum": 854}, "y": {"datum": 41.7}, "text": {"value": "heat affected zone and matrix"}}}
]},
{"width": 701, "height": 176.5, "title": "(f)", "layer": [
  {"data": {"values": [{}]}, "mark": {"type": "rect", "color": "#e7f3ef"}, "encoding": {"x": {"datum": 470}, "x2": {"datum": 1500}}},
  {"mark": {"type": "line", "color": "#2b45a5", "strokeWidth": 1}, "encoding": {
    "x": {"field": "x", "type": "quantitative", "scale": {"domain": [0, 1500], "nice": false}, "axis": {"values": [0, 300, 600, 900, 1200, 1500], "tickCount": 20, "title": "Number of points", "labelOverlap": false}},
    "y": {"field": "Mn", "type": "quantitative", "scale": {"domain": [0, 50], "nice": false}, "axis": {"values": [0, 10, 20, 30, 40, 50], "tickCount": 20, "title": "Pulse intensity", "labelOverlap": false}}}},
  {"data": {"values": [{}]}, "mark": {"type": "rule", "color": "#000", "strokeWidth": 2.5, "strokeDash": [8, 5]}, "encoding": {"x": {"datum": 470}}},
  {"data": {"values": [{}]}, "mark": {"type": "rect", "color": "#7699d4", "opacity": 0.85}, "encoding": {"x": {"datum": 1240}, "x2": {"datum": 1486}, "y": {"datum": 48.1}, "y2": {"datum": 35.2}}},
  {"data": {"values": [{}]}, "mark": {"type": "text"}, "encoding": {"x": {"datum": 1368}, "y": {"datum": 41.5}, "text": {"value": "Mn"}}},
  {"data": {"values": [{}]}, "mark": {"type": "text", "lineHeight": 23}, "encoding": {"x": {"datum": 219}, "y": {"datum": 43.7}, "text": {"value": ["remelted", "layer"]}}},
  {"data": {"values": [{}]}, "mark": {"type": "text"}, "encoding": {"x": {"datum": 854}, "y": {"datum": 41.8}, "text": {"value": "heat affected zone and matrix"}}}
]}
]
}
